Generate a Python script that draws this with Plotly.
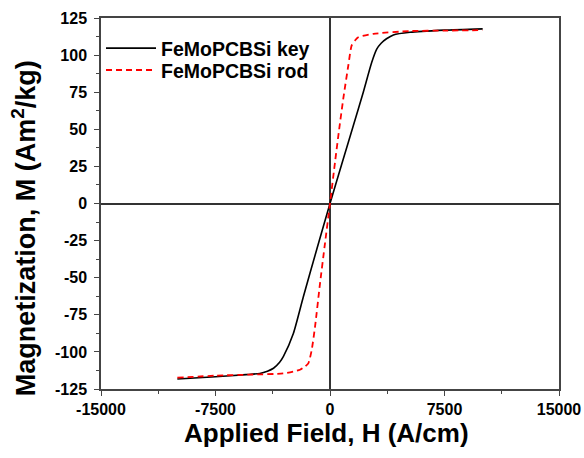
import plotly.graph_objects as go

# FeMoPCBSi key (black solid)
key_H = [-10000, -7500, -5500, -4600, -4100, -3700, -3300, -3050, -2400, -1750, -870, 0,
         870, 1530, 2180, 2730, 3060, 3350, 3700, 4150, 5240, 7500, 10000]
key_M = [-118.3, -116.7, -115.3, -114.5, -113.0, -111.0, -107.0, -103.0, -87.6, -63.0, -31.0, 0,
         30.0, 52.6, 75.0, 95.0, 104.0, 108.0, 111.0, 113.6, 115.4, 116.8, 117.7]

# FeMoPCBSi rod (red dashed)
rod_H = [-10000, -7500, -5240, -3060, -1965, -1650, -1420, -1200, -980, -655, -330, 0,
         330, 600, 870, 1200, 1420, 1650, 1850, 2840, 5240, 7500, 10000]
rod_M = [-117.4, -116.0, -115.3, -114.5, -112.0, -110.0, -107.7, -98.8, -83.0, -54.0, -27.0, 0,
         28.0, 50.0, 70.6, 93.0, 106.5, 110.0, 112.0, 114.3, 116.2, 116.5, 116.8]

series_names = ["FeMoPCBSi key", "FeMoPCBSi rod"]

x_ticks = [-15000, -7500, 0, 7500, 15000]
y_ticks = [-125, -100, -75, -50, -25, 0, 25, 50, 75, 100, 125]

x_title = "Applied Field, H (A/cm)"
y_title = "Magnetization, M (Am<sup>2</sup>/kg)"

FONT = "Liberation Sans, Arial, sans-serif"

fig = go.Figure()
fig.add_trace(go.Scatter(x=key_H, y=key_M, mode="lines", name="<b>%s</b>" % series_names[0],
                         legend="legend",
                         line=dict(color="#000000", width=1.6, shape="spline", smoothing=0.6)))
fig.add_trace(go.Scatter(x=rod_H, y=rod_M, mode="lines", name="<b>%s</b>" % series_names[1],
                         legend="legend2",
                         line=dict(color="#ff0000", width=1.8, dash="6px,4px", shape="spline", smoothing=0.6)))

axis_common = dict(
    showline=True, linecolor="#444444", linewidth=1.5, mirror=True,
    ticks="outside", ticklen=5, tickwidth=1.2, tickcolor="#444444",
    showgrid=False, zeroline=True, zerolinecolor="#333333", zerolinewidth=1.5,
    tickfont=dict(family=FONT, size=16, color="#000000"),
    automargin=False,
)

fig.update_xaxes(range=[-15000, 15000], tickmode="array",
                 tickvals=x_ticks,
                 ticktext=["<b>%d</b>" % v for v in x_ticks],
                 minor=dict(dtick=3750, tick0=0, ticks="outside", ticklen=3, tickcolor="#444444", showgrid=False),
                 **axis_common)
fig.update_yaxes(range=[-125, 125], tickmode="array",
                 tickvals=y_ticks,
                 ticktext=["<b>%d</b>" % v for v in y_ticks],
                 ticklabelstandoff=4,
                 minor=dict(dtick=12.5, tick0=0, ticks="outside", ticklen=3, tickcolor="#444444", showgrid=False),
                 **axis_common)

fig.add_annotation(text="<b>%s</b>" % x_title, xref="paper", yref="paper",
                   x=0.4924, y=-0.119, xanchor="center", yanchor="middle", showarrow=False,
                   font=dict(family=FONT, size=26, color="#000000"))
fig.add_annotation(text="<b>%s</b>" % y_title, xref="paper", yref="paper", textangle=-90,
                   x=-0.168, y=0.4334, xanchor="center", yanchor="middle", showarrow=False,
                   font=dict(family=FONT, size=27, color="#000000"))

legend_common = dict(xanchor="left", yanchor="middle",
                     font=dict(family=FONT, size=19.5, color="#000000"),
                     bgcolor="rgba(0,0,0,0)", itemwidth=50)

fig.update_layout(
    width=584, height=458,
    margin=dict(l=101, r=25, t=18, b=69),
    paper_bgcolor="white", plot_bgcolor="white",
    legend=dict(x=0.0, y=0.918, **legend_common),
    legend2=dict(x=0.0, y=0.859, **legend_common),
    showlegend=True,
)

fig.write_html("out.html", config={"displayModeBar": False},
               post_script="document.body.style.margin='0px';document.body.style.overflow='hidden';")
